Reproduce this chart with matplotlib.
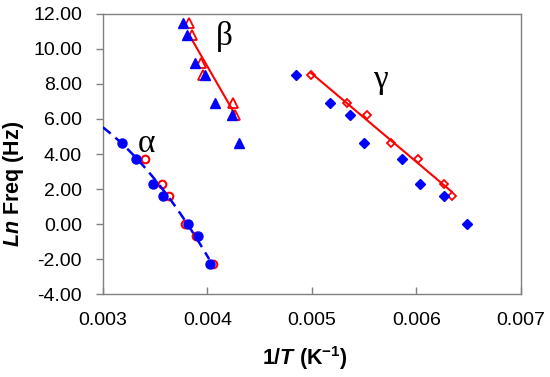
import numpy as np
import matplotlib
matplotlib.use("Agg")
import matplotlib.pyplot as plt

plt.rcParams['font.family'] = ['Liberation Sans', 'DejaVu Sans']
plt.rcParams['mathtext.fontset'] = 'custom'
plt.rcParams['mathtext.rm'] = 'Liberation Sans:bold'
plt.rcParams['mathtext.it'] = 'Liberation Sans:italic:bold'

# alpha relaxation (circles)
a_blue_x = [0.003179, 0.003316, 0.003476, 0.003571, 0.003816, 0.003906, 0.004024]
a_blue_y = [4.61, 3.69, 2.30, 1.61, 0.00, -0.69, -2.30]
a_red_x = [0.003405, 0.003562, 0.003635, 0.003790, 0.003895, 0.004050]
a_red_y = [3.69, 2.30, 1.61, 0.00, -0.69, -2.30]

# beta relaxation (triangles)
b_blue_x = [0.003768, 0.003810, 0.003880, 0.003976, 0.004072, 0.004237, 0.004300]
b_blue_y = [11.51, 10.82, 9.21, 8.52, 6.91, 6.21, 4.61]
b_red_x = [0.003820, 0.003855, 0.003944, 0.003954, 0.004247, 0.004263]
b_red_y = [11.51, 10.82, 9.21, 8.52, 6.91, 6.21]

# gamma relaxation (diamonds)
g_blue_x = [0.004853, 0.005172, 0.005364, 0.005498, 0.005858, 0.006033, 0.006266, 0.006480]
g_blue_y = [8.52, 6.91, 6.21, 4.61, 3.69, 2.30, 1.61, 0.00]
g_red_x = [0.004990, 0.005332, 0.005523, 0.005753, 0.006017, 0.006266, 0.006337]
g_red_y = [8.52, 6.91, 6.21, 4.61, 3.69, 2.30, 1.61]

blue = '#0000FF'
red = '#FF0000'

fig = plt.figure(figsize=(5.5, 3.77), dpi=100)
ax = fig.add_axes([0.187, 0.22, 0.760, 0.743])

# red (open) series first
ax.plot(a_red_x, a_red_y, 'o', ms=5.5, mfc='white', mec=red, mew=1.5, ls='none', zorder=2)
ax.plot(b_red_x, b_red_y, '^', ms=6.5, mfc='white', mec=red, mew=1.3, ls='none', zorder=2)
ax.plot(g_red_x, g_red_y, 'D', ms=4.5, mfc='white', mec=red, mew=1.3, ls='none', zorder=2)

# linear fits for beta and gamma
for xs, ys in [(b_red_x, b_red_y), (g_red_x, g_red_y)]:
    p = np.polyfit(xs, ys, 1)
    xx = np.array([min(xs), max(xs)])
    ax.plot(xx, np.polyval(p, xx), color=red, lw=1.5, zorder=3)

# blue filled series
ax.plot(a_blue_x, a_blue_y, 'o', ms=6.5, color=blue, ls='none', zorder=4)
ax.plot(b_blue_x, b_blue_y, '^', ms=7, color=blue, ls='none', zorder=4)
ax.plot(g_blue_x, g_blue_y, 'D', ms=5, color=blue, ls='none', zorder=4)

# quadratic trend for alpha (all alpha points)
p2 = np.polyfit(a_blue_x + a_red_x, a_blue_y + a_red_y, 2)
xx = np.linspace(0.003, 0.004017, 100)
ax.plot(xx, np.polyval(p2, xx), '--', color=blue, lw=1.8, dashes=(4, 2.5), zorder=5)

ax.text(0.003420, 4.6, 'α', family='Liberation Serif', fontsize=24, ha='center', va='center')
ax.text(0.004165, 10.7, 'β', family='Liberation Serif', fontsize=24, ha='center', va='center')
ax.text(0.005660, 8.25, 'γ', family='Liberation Serif', fontsize=24, ha='center', va='center')

ax.set_xlim(0.003, 0.007)
ax.set_ylim(-4, 12)
ax.set_xticks([0.003, 0.004, 0.005, 0.006, 0.007])
ax.set_xticklabels(['0.003', '0.004', '0.005', '0.006', '0.007'])
ax.set_yticks(np.arange(-4, 13, 2))
ax.set_yticklabels(['%.2f' % v for v in np.arange(-4, 13, 2)])
ax.tick_params(axis='both', labelsize=14, color='#808080', width=1)
ax.tick_params(axis='x', direction='in', length=5, pad=13)
ax.tick_params(axis='y', direction='out', length=5, pad=10)
for s in ax.spines.values():
    s.set_color('#808080')
    s.set_linewidth(1)

ax.set_xlabel(r'1/$\mathit{T}$ (K$^{\mathrm{-1}}$)', fontsize=15.5, fontweight='bold')
ax.set_ylabel(r'$\mathit{Ln}$ Freq (Hz)', fontsize=15.5, fontweight='bold')
ax.xaxis.set_label_coords(0.483, -0.18)
ax.yaxis.set_label_coords(-0.184, 0.393)

fig.savefig('out.png', dpi=100)
